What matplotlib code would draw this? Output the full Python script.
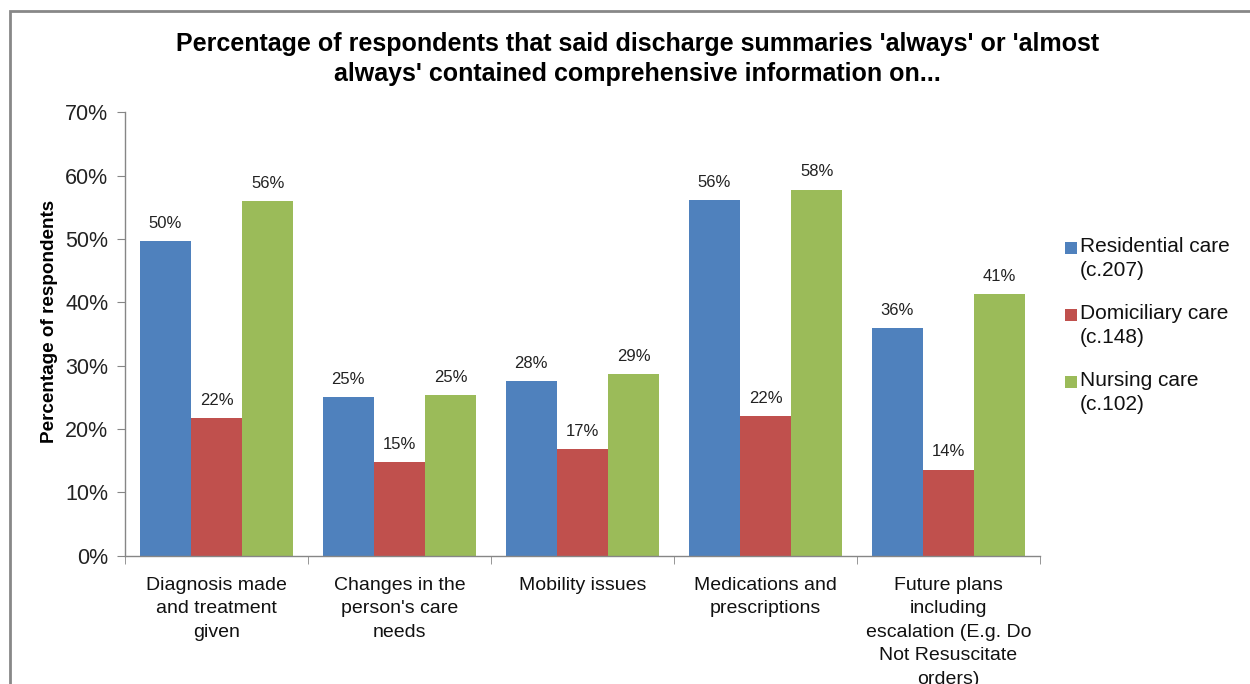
import matplotlib
matplotlib.use("Agg")
import matplotlib.pyplot as plt
import numpy as np
from matplotlib.patches import Rectangle

plt.rcParams['font.family'] = ['Liberation Sans', 'DejaVu Sans']

categories = ["Diagnosis made\nand treatment\ngiven",
              "Changes in the\nperson's care\nneeds",
              "Mobility issues",
              "Medications and\nprescriptions",
              "Future plans\nincluding\nescalation (E.g. Do\nNot Resuscitate\norders)"]
series_names = ["Residential care\n(c.207)", "Domiciliary care\n(c.148)", "Nursing care\n(c.102)"]
residential = [49.7, 25.1, 27.6, 56.1, 36.0]
domiciliary = [21.7, 14.8, 16.9, 22.1, 13.6]
nursing = [56.0, 25.4, 28.7, 57.8, 41.3]
colors = ["#4F81BD", "#C0504D", "#9BBB59"]

W, H = 1250, 684
fig = plt.figure(figsize=(W / 100, H / 100), dpi=100)
ax = fig.add_axes([0.1, 0.1876, 0.732, 0.6482])

x = np.arange(len(categories))
w = 0.28
for i, (vals, name, c) in enumerate(zip([residential, domiciliary, nursing], series_names, colors)):
    pos = x + (i - 1) * w
    ax.bar(pos, vals, width=w, color=c, label=name, edgecolor='none')
    for p, v in zip(pos, vals):
        ax.text(p, v + 1.6, f"{round(v):.0f}%", ha='center', va='bottom', fontsize=12, color='#222222')

ax.set_ylim(0, 70)
ax.set_xlim(-0.5, len(categories) - 0.5)
ax.set_yticks(np.arange(0, 71, 10))
ax.set_yticklabels([f"{v}%" for v in range(0, 71, 10)], fontsize=15.5, color='#222222')
ax.set_xticks(x)
ax.set_xticklabels(categories, fontsize=14, color='#111111', linespacing=1.5, va='top')
ax.set_xticks(np.arange(-0.5, len(categories), 1), minor=True)
ax.tick_params(axis='x', which='major', length=0, pad=15)
ax.tick_params(axis='x', which='minor', length=6, color='#868686', direction='out')
ax.tick_params(axis='y', length=6, color='#868686', direction='out', pad=6)
for s in ['top', 'right']:
    ax.spines[s].set_visible(False)
for s in ['left', 'bottom']:
    ax.spines[s].set_color('#868686')
    ax.spines[s].set_linewidth(1.0)

ax.set_ylabel("Percentage of respondents", fontsize=13.6, fontweight='bold')
ax.yaxis.set_label_coords(58 / W, 1 - 321 / H, transform=fig.transFigure)

fig.text(0.51, 1 - 59 / H, "Percentage of respondents that said discharge summaries 'always' or 'almost\nalways' contained comprehensive information on...",
         ha='center', va='center', fontsize=18, fontweight='bold', linespacing=1.32)

# legend (patch aligned with first line of each label)
row_y = [248, 315, 382]
for name, c, ry in zip(series_names, colors, row_y):
    fig.patches.append(Rectangle((1065 / W, 1 - (ry + 6) / H), 12 / W, 12 / H,
                                 transform=fig.transFigure, facecolor=c, edgecolor='none'))
    fig.text(1080 / W, 1 - (ry - 11) / H, name, ha='left', va='top', fontsize=15,
             linespacing=1.32, color='#111111')

fig.patches.append(Rectangle((10 / W, -0.1), 1.2, 1 - 11 / H + 0.1, transform=fig.transFigure,
                             fill=False, edgecolor='#888888', linewidth=2))

fig.savefig("out.png", dpi=100)
